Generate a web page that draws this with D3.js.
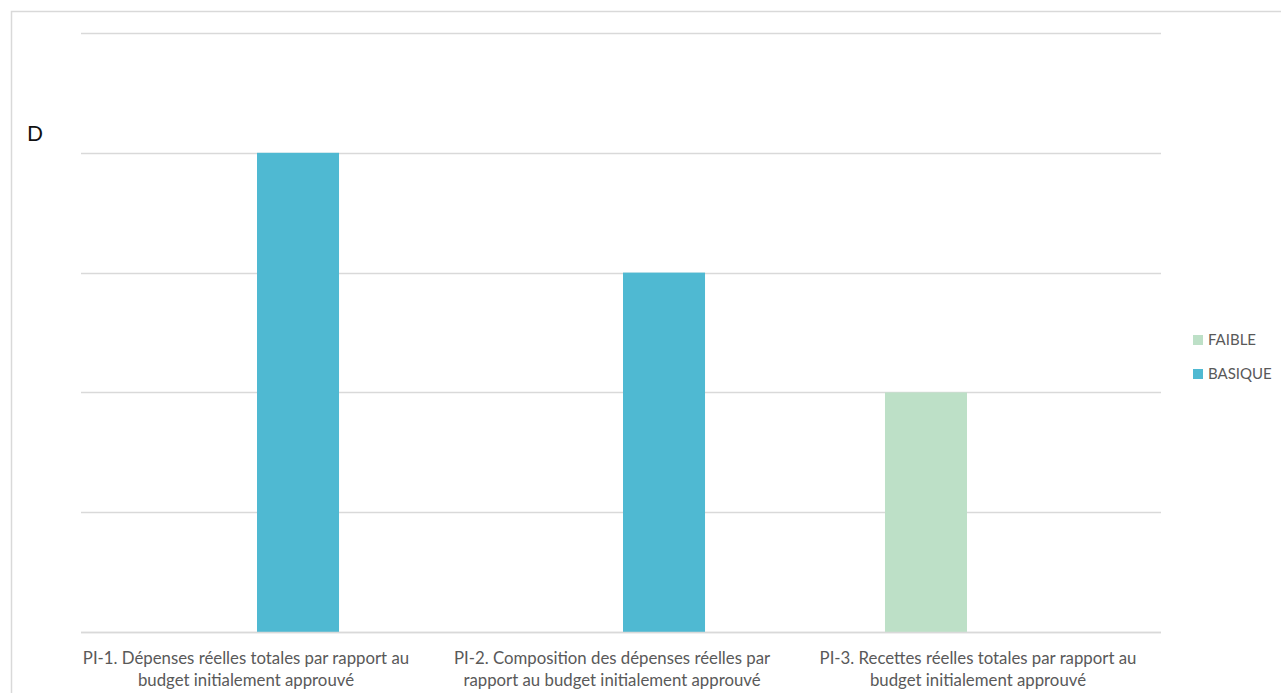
<!DOCTYPE html>
<html><head><meta charset="utf-8">
<script src="https://cdn.jsdelivr.net/npm/d3@7"></script>
<style>html,body{margin:0;padding:0;background:#fff;overflow:hidden}</style>
</head><body>
<svg id="c" width="1281" height="693"></svg>
<script>
const categories = [
  ["PI-1. Dépenses réelles totales par rapport au", "budget initialement approuvé"],
  ["PI-2. Composition des dépenses réelles par", "rapport au budget initialement approuvé"],
  ["PI-3. Recettes réelles totales par rapport au", "budget initialement approuvé"]
];
const seriesNames = ["FAIBLE", "BASIQUE"];
const faibleValues = [null, null, 2];
const basiqueValues = [4, 3, null];
const yTicks = [0, 1, 2, 3, 4, 5];
const yLabel = "D";
const colors = {FAIBLE: "#bde0c7", BASIQUE: "#4fb9d2"};

const svg = d3.select("#c");
const font = "Lato, 'Open Sans', sans-serif";

// outer chart border
svg.append("rect").attr("x", 11.5).attr("y", 11.5).attr("width", 1300).attr("height", 700)
  .attr("fill", "none").attr("stroke", "#d9d9d9").attr("stroke-width", 1.5);

const catIdx = categories.map((d, i) => i);
const x = d3.scaleBand().domain(catIdx).range([63, 1161]).padding(0);
const xs = d3.scaleBand().domain(seriesNames).range([0, x.bandwidth()]).paddingInner(0.2115).paddingOuter(0.865);
const y = d3.scaleLinear().domain([0, 5]).range([632, 33]);

// gridlines
svg.append("g").selectAll("line").data(yTicks).join("line")
  .attr("x1", 81).attr("x2", 1161)
  .attr("y1", d => Math.round(y(d)) + 0.5).attr("y2", d => Math.round(y(d)) + 0.5)
  .attr("stroke", "#d9d9d9").attr("stroke-width", 1.5);

const data = [];
catIdx.forEach(i => {
  if (faibleValues[i] != null) data.push({c: i, s: "FAIBLE", v: faibleValues[i]});
  if (basiqueValues[i] != null) data.push({c: i, s: "BASIQUE", v: basiqueValues[i]});
});
svg.append("g").selectAll("rect").data(data).join("rect")
  .attr("x", d => x(d.c) + xs(d.s))
  .attr("width", xs.bandwidth())
  .attr("y", d => y(d.v))
  .attr("height", d => y(0) - y(d.v))
  .attr("fill", d => colors[d.s]);

// baseline redraw
svg.append("line").attr("x1", 81).attr("x2", 1161).attr("y1", Math.round(y(0)) + 0.5).attr("y2", Math.round(y(0)) + 0.5)
  .attr("stroke", "#d9d9d9").attr("stroke-width", 1.5);

// category labels
const lab = svg.append("g").selectAll("text").data(catIdx).join("text")
  .attr("x", d => x(d) + x.bandwidth() / 2)
  .attr("text-anchor", "middle")
  .attr("font-family", font).attr("font-size", 16.8).attr("fill", "#595959");
lab.append("tspan").attr("x", d => x(d) + x.bandwidth() / 2).attr("y", 664).text(d => categories[d][0]);
lab.append("tspan").attr("x", d => x(d) + x.bandwidth() / 2).attr("y", 686).text(d => categories[d][1]);

// y label
svg.append("text").attr("x", 27).attr("y", 141).attr("font-family", font).attr("font-size", 21)
  .attr("fill", "#111").text(yLabel);

// legend
const lg = svg.append("g").selectAll("g").data(seriesNames).join("g")
  .attr("transform", (d, i) => `translate(1193, ${335 + i * 34})`);
lg.append("rect").attr("width", 10).attr("height", 10).attr("fill", d => colors[d]);
lg.append("text").attr("x", 15).attr("y", 10).attr("font-family", font).attr("font-size", 15)
  .attr("fill", "#595959").text(d => d);
</script>
</body></html>
